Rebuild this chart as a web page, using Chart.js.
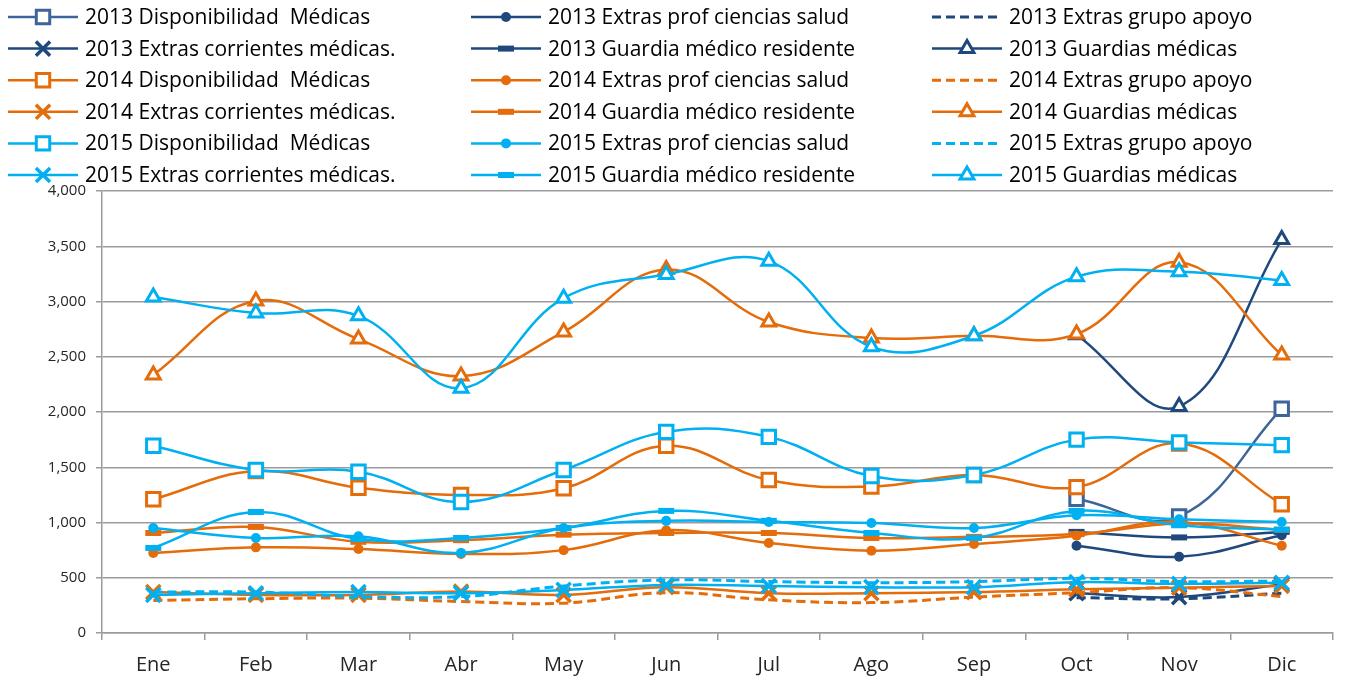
<!DOCTYPE html>
<html>
<head>
<meta charset="utf-8">
<script src="https://cdn.jsdelivr.net/npm/chart.js@4.4.1/dist/chart.umd.min.js"></script>
<style>
  html, body { margin: 0; padding: 0; background: #fff; }
  #wrap { width: 1347px; height: 680px; position: relative; }
</style>
</head>
<body>
<div id="wrap"><canvas id="chart" width="1347" height="680"></canvas></div>
<script>
(function () {
  'use strict';

  var months = ['Ene', 'Feb', 'Mar', 'Abr', 'May', 'Jun', 'Jul', 'Ago', 'Sep', 'Oct', 'Nov', 'Dic'];
  var yTicks = [0, 500, 1000, 1500, 2000, 2500, 3000, 3500, 4000];

  // 2013 solo tiene datos de octubre a diciembre
  var disp2013 = [null, null, null, null, null, null, null, null, null, 1215, 1055, 2030];
  var prof2013 = [null, null, null, null, null, null, null, null, null, 790, 690, 885];
  var grupo2013 = [null, null, null, null, null, null, null, null, null, 320, 310, 360];
  var corr2013 = [null, null, null, null, null, null, null, null, null, 360, 325, 440];
  var resid2013 = [null, null, null, null, null, null, null, null, null, 915, 865, 915];
  var guard2013 = [null, null, null, null, null, null, null, null, null, 2700, 2050, 3560];

  var disp2014 = [1210, 1465, 1315, 1250, 1310, 1695, 1385, 1325, 1430, 1320, 1715, 1165];
  var prof2014 = [725, 775, 760, 715, 750, 930, 815, 745, 805, 880, 1005, 790];
  var grupo2014 = [295, 310, 315, 285, 270, 365, 300, 275, 325, 365, 410, 330];
  var corr2014 = [370, 345, 345, 375, 345, 415, 360, 360, 370, 395, 410, 425];
  var resid2014 = [905, 960, 825, 840, 890, 905, 905, 860, 870, 895, 990, 935];
  var guard2014 = [2335, 3005, 2660, 2325, 2725, 3290, 2815, 2670, 2690, 2705, 3355, 2515];

  var disp2015 = [1695, 1475, 1460, 1185, 1475, 1820, 1775, 1420, 1430, 1750, 1725, 1700];
  var prof2015 = [950, 860, 875, 725, 950, 1015, 1005, 995, 950, 1065, 1030, 1005];
  var grupo2015 = [370, 370, 330, 330, 425, 480, 465, 455, 465, 495, 465, 470];
  var corr2015 = [345, 360, 370, 360, 390, 435, 425, 415, 415, 460, 445, 455];
  var resid2015 = [770, 1095, 850, 860, 950, 1105, 1015, 905, 860, 1105, 975, 935];
  var guard2015 = [3040, 2895, 2870, 2215, 3030, 3245, 3365, 2590, 2690, 3225, 3270, 3190];

  var FONT = '"Open Sans", "Noto Sans", sans-serif';
  var GRID = '#9b9b9b';

  function serie(label, data, color, kind, order) {
    var ds = {
      label: label,
      data: data,
      borderColor: color,
      backgroundColor: color,
      borderWidth: 2.5,
      tension: 0.4,
      order: order,
      pointBorderColor: color,
      pointBackgroundColor: color,
      pointHoverRadius: 0
    };
    if (kind === 'rect') {
      ds.pointStyle = 'rect'; ds.pointRadius = 9.5; ds.pointBorderWidth = 3; ds.pointBackgroundColor = '#fff';
    } else if (kind === 'circle') {
      ds.pointStyle = 'circle'; ds.pointRadius = 5; ds.pointBorderWidth = 0;
    } else if (kind === 'dash') {
      ds.pointRadius = 0; ds.borderDash = [9, 5]; ds.borderWidth = 3;
    } else if (kind === 'cross') {
      ds.pointStyle = 'crossRot'; ds.pointRadius = 10; ds.pointBorderWidth = 3.5;
    } else if (kind === 'bar') {
      ds.pointStyle = 'line'; ds.pointRadius = 8; ds.pointBorderWidth = 6;
    } else if (kind === 'tri') {
      ds.pointStyle = 'triangle'; ds.pointRadius = 8; ds.pointBorderWidth = 3; ds.pointBackgroundColor = '#fff';
    }
    return ds;
  }

  var C13 = '#1f497d', C13b = '#3d659a', C14 = '#e46c0a', C15 = '#00b0f0';

  var datasets = [
    serie('2013 Disponibilidad  Médicas', disp2013, C13b, 'rect', 2),
    serie('2013 Extras prof ciencias salud', prof2013, C13, 'circle', 2),
    serie('2013 Extras grupo apoyo', grupo2013, C13, 'dash', 2),
    serie('2013 Extras corrientes médicas.', corr2013, C13, 'cross', 2),
    serie('2013 Guardia médico residente', resid2013, C13, 'bar', 2),
    serie('2013 Guardias médicas', guard2013, C13, 'tri', 2),
    serie('2014 Disponibilidad  Médicas', disp2014, C14, 'rect', 1),
    serie('2014 Extras prof ciencias salud', prof2014, C14, 'circle', 1),
    serie('2014 Extras grupo apoyo', grupo2014, C14, 'dash', 1),
    serie('2014 Extras corrientes médicas.', corr2014, C14, 'cross', 1),
    serie('2014 Guardia médico residente', resid2014, C14, 'bar', 1),
    serie('2014 Guardias médicas', guard2014, C14, 'tri', 1),
    serie('2015 Disponibilidad  Médicas', disp2015, C15, 'rect', 0),
    serie('2015 Extras prof ciencias salud', prof2015, C15, 'circle', 0),
    serie('2015 Extras grupo apoyo', grupo2015, C15, 'dash', 0),
    serie('2015 Extras corrientes médicas.', corr2015, C15, 'cross', 0),
    serie('2015 Guardia médico residente', resid2015, C15, 'bar', 0),
    serie('2015 Guardias médicas', guard2015, C15, 'tri', 0)
  ];

  // leyenda en rejilla de 3 columnas, como en Excel
  var gridLegend = {
    id: 'gridLegend',
    afterDraw: function (chart) {
      var ctx = chart.ctx;
      var colX = [8, 471, 932];
      var rowY0 = 17, rowH = 31.6;
      ctx.save();
      chart.data.datasets.forEach(function (ds, i) {
        var x0 = colX[i % 3];
        var y = rowY0 + Math.floor(i / 3) * rowH;
        ctx.strokeStyle = ds.borderColor;
        ctx.lineWidth = ds.borderWidth;
        ctx.setLineDash(ds.borderDash || []);
        ctx.beginPath();
        ctx.moveTo(x0, y);
        ctx.lineTo(x0 + 70, y);
        ctx.stroke();
        ctx.setLineDash([]);
        if (ds.pointRadius > 0) {
          ctx.fillStyle = ds.pointBackgroundColor;
          ctx.strokeStyle = ds.pointBorderColor;
          ctx.lineWidth = ds.pointBorderWidth;
          Chart.helpers.drawPoint(ctx, {
            pointStyle: ds.pointStyle,
            rotation: 0,
            radius: ds.pointRadius,
            borderWidth: ds.pointBorderWidth
          }, x0 + 35, y);
        }
        ctx.fillStyle = '#000';
        ctx.font = '21px ' + FONT;
        ctx.textBaseline = 'middle';
        ctx.textAlign = 'left';
        ctx.fillText(ds.label, x0 + 77, y + 1);
      });
      ctx.restore();
    }
  };

  new Chart(document.getElementById('chart'), {
    type: 'line',
    data: { labels: months, datasets: datasets },
    plugins: [gridLegend],
    options: {
      responsive: false,
      animation: false,
      layout: { padding: { top: 191, right: 6, bottom: 0, left: 0 } },
      plugins: {
        legend: { display: false },
        tooltip: { enabled: false }
      },
      scales: {
        x: {
          offset: true,
          afterFit: function (scale) { scale.height = 47; },
          grid: { display: true, drawOnChartArea: false, offset: true, tickLength: 7, color: GRID, lineWidth: 1.5 },
          border: { display: true, color: GRID, width: 1.5 },
          ticks: { color: '#262626', padding: 13, font: { family: FONT, size: 20 } }
        },
        y: {
          min: yTicks[0],
          max: yTicks[yTicks.length - 1],
          afterFit: function (scale) { scale.width = 102; },
          afterBuildTicks: function (scale) {
            scale.ticks = yTicks.map(function (v) { return { value: v }; });
          },
          grid: { color: GRID, lineWidth: 1.5, tickLength: 6 },
          border: { display: true, color: GRID, width: 1.5 },
          ticks: {
            color: '#262626',
            padding: 10,
            font: { family: FONT, size: 15 },
            callback: function (value) { return value.toLocaleString('en-US'); }
          }
        }
      }
    }
  });
})();
</script>
</body>
</html>
